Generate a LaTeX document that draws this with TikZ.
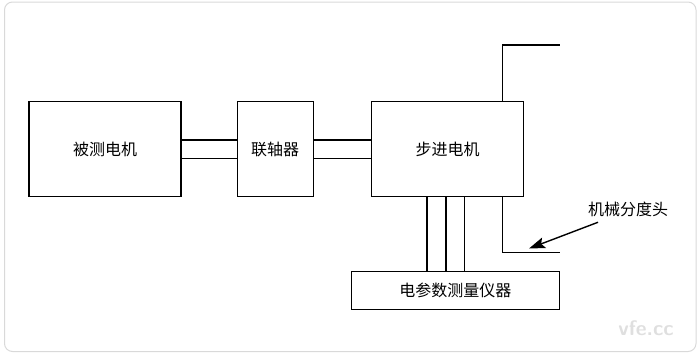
\documentclass[tikz,border=0pt]{standalone}
\usepackage{fontspec}
\newfontfamily\cjk{Noto Sans CJK SC}
\usetikzlibrary{arrows.meta}
\begin{document}
\begin{tikzpicture}[x=1pt,y=-1pt,font=\cjk\fontsize{16}{19}\selectfont,
  box/.style={draw,line width=1.3pt,inner sep=0pt}]
  \useasboundingbox (0,0) rectangle (700,354);
  \draw[gray!30, line width=1pt, rounded corners=8pt] (4.5,2) rectangle (696,351.5);
  \node[box, minimum width=152, minimum height=95] (motor) at (105,149.3) {被测电机};
  \node[box, minimum width=76, minimum height=95] (coupling) at (275.2,149.3) {联轴器};
  \node[box, minimum width=152, minimum height=95] (stepper) at (447.7,149.3) {步进电机};
  \node[box, minimum width=208, minimum height=37.6] (meter) at (455.3,290.5) {电参数测量仪器};
  % shafts
  \foreach \s in {-9.3,9.3} {
    \draw[line width=1.3pt] ([yshift=\s pt]motor.east) -- ([yshift=\s pt]coupling.west);
    \draw[line width=1.3pt] ([yshift=\s pt]coupling.east) -- ([yshift=\s pt]stepper.west);
  }
  \foreach \s in {-20.6,-1.7,17.1}
    \draw[line width=1.3pt] ([xshift=\s pt]stepper.south) -- ([xshift=\s pt]stepper.south |- meter.north);
  % dividing head
  \coordinate (headtop) at (560,45);
  \coordinate (headbot) at (560,252.7);
  \draw[line width=1.5pt] ([xshift=54.8pt]stepper.north) |- (headtop);
  \draw[line width=1.5pt] ([xshift=54.8pt]stepper.south) |- (headbot);
  \node (head) at (628,209.3) {机械分度头};
  \coordinate (tip) at (529,248.5);
  \draw[line width=1.4pt, -{Stealth[length=16pt,width=11pt,inset=3pt]}] ([xshift=-30pt,yshift=-2pt]head.south) -- (tip);
  \node[gray!25, font=\sffamily\bfseries\fontsize{21}{24}\selectfont] (mark) at (646,328) {vfe.cc};
\end{tikzpicture}
\end{document}
